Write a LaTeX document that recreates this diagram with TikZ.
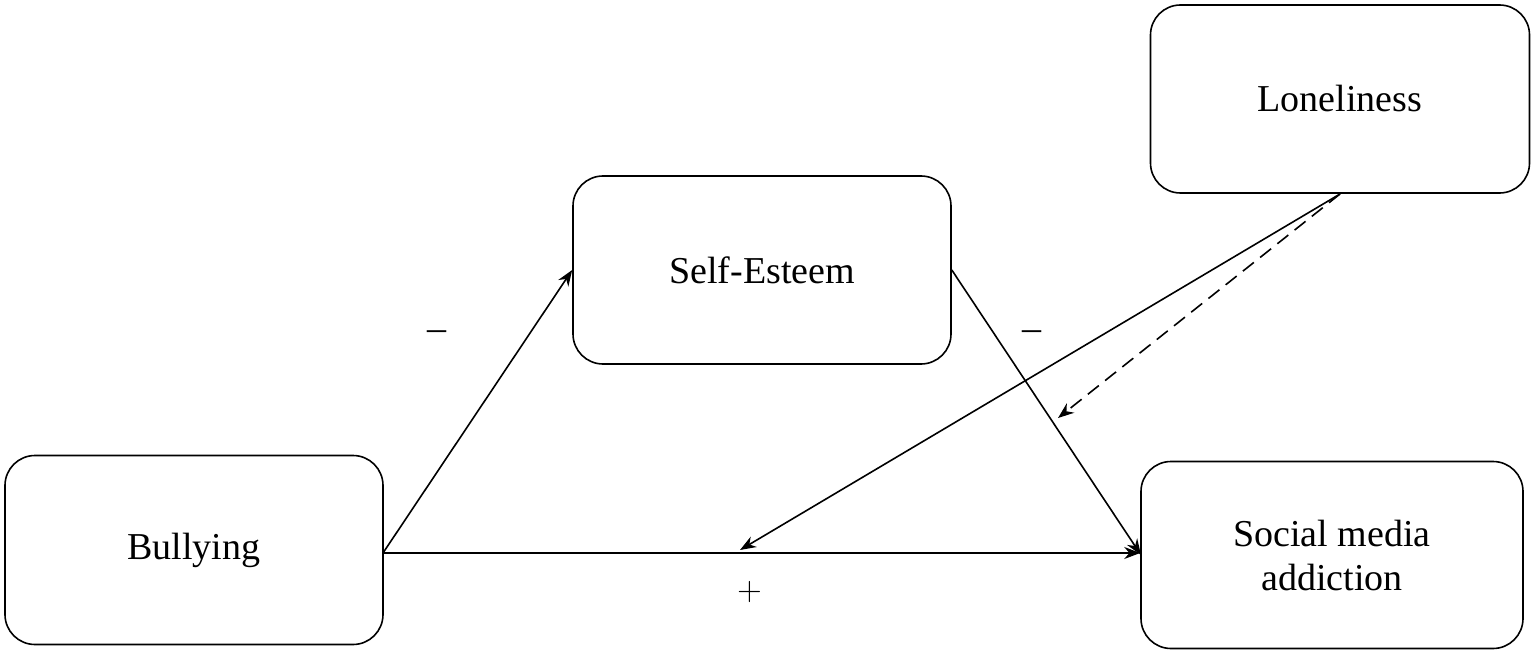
\documentclass[tikz,border=0pt]{standalone}
\usepackage{fontspec}
\setmainfont{Liberation Serif}
\usetikzlibrary{arrows.meta}
\begin{document}
\begin{tikzpicture}[x=1pt,y=-1pt,
  box/.style={draw,line width=1.6pt,rounded corners=30pt,inner sep=0pt,font=\fontsize{38}{44}\selectfont,align=center},
  arr/.style={line width=1.6pt,-{Stealth[length=16pt,width=12pt]}},
  lbl/.style={font=\fontsize{38}{44}\selectfont}]
\useasboundingbox (0,0) rectangle (1535,655);
\node[box,minimum width=378pt,minimum height=189pt] (bul) at (194,550) {Bullying};
\node[box,minimum width=378pt,minimum height=188pt] (se) at (762,270) {Self-Esteem};
\node[box,minimum width=379pt,minimum height=188pt] (lon) at (1340,99) {Loneliness};
\node[box,minimum width=382pt,minimum height=187pt] (sma) at (1332,555) {Social media\\addiction};
\coordinate (bo) at (383,553);
\coordinate (mid) at (740,550);
\coordinate (mod) at (1058,418);
\coordinate (lb) at (1340,194);
\draw[arr] (bo) -- (se.west);
\draw[arr] (bo) -- (sma.west |- bo);
\draw[arr] (se.east) -- (1141,555);
\draw[arr] (lb) -- (mid);
\draw[arr,dashed,dash pattern=on 14pt off 8pt] (lb) -- (mod);
\node[lbl] (m1) at (437,336) {–};
\node[lbl] (m2) at (1032,336) {–};
\node[lbl,font=\fontsize{34}{40}\selectfont\sffamily] (p) at (750,592) {+};
\end{tikzpicture}
\end{document}
